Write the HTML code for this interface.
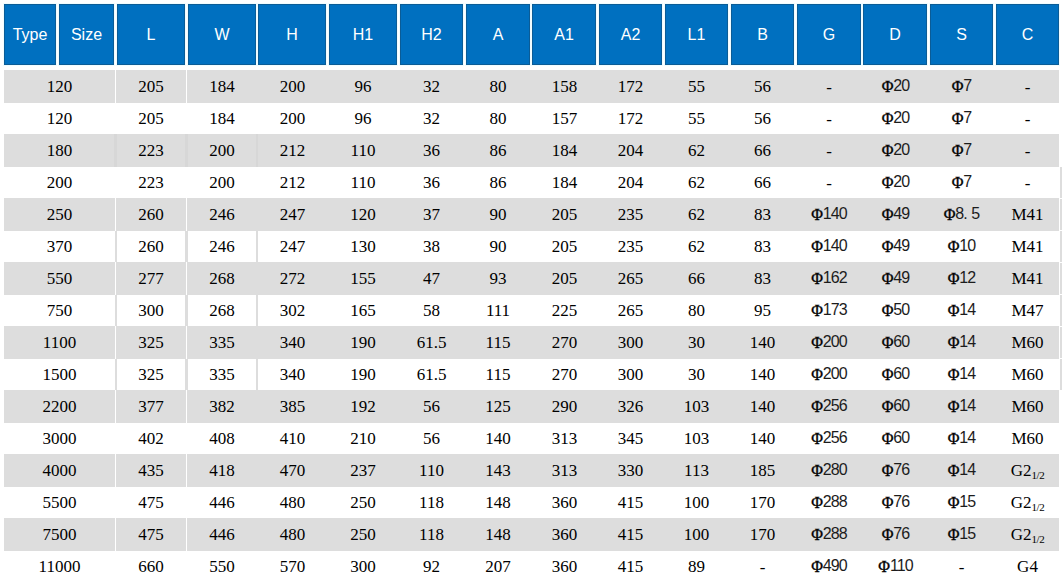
<!DOCTYPE html>
<html><head><meta charset="utf-8"><title>Dimensions</title>
<style>
html,body{margin:0;padding:0;background:#fff;width:1062px;height:581px;overflow:hidden;position:relative}
.h{position:absolute;top:4px;height:61px;background:#0070c0;color:#fff;font:16px/61px "Liberation Sans",sans-serif;text-align:center;box-shadow:inset 0 0 0 1px #0b5c96,inset 0 -1px 0 0 #0a4f82,0 0 0 1px #f0fcff}
.r{position:absolute;left:4px;width:1055px;height:33px;background:#dddddd}
.c{position:absolute;height:33px;font:17px/33px "Liberation Serif",serif;color:#000;text-align:center;white-space:nowrap}
.p{font-size:16px;margin-top:-1px}
.p i{font-style:normal;position:relative;top:1px;-webkit-text-stroke:0.35px #000}
.p b{font-weight:normal;font-family:"Liberation Sans",sans-serif;letter-spacing:-0.9px;color:#1c1c1c}
.p u{text-decoration:none;display:inline-block;width:8px;text-align:left;text-indent:0}
.v{position:absolute;width:1px;height:33px;background:#fff}
.vg{position:absolute;width:2px;height:31px;background:#d9d9d9}
.d{margin-top:1px}
sub{font-size:11px;vertical-align:-3px;line-height:0;letter-spacing:-0.5px}
</style></head><body>

<div class="h" style="left:4px;width:52px">Type</div>
<div class="h" style="left:59px;width:55px">Size</div>
<div class="h" style="left:117px;width:68px">L</div>
<div class="h" style="left:188px;width:68px">W</div>
<div class="h" style="left:258px;width:68px">H</div>
<div class="h" style="left:329px;width:68px">H1</div>
<div class="h" style="left:400px;width:63px">H2</div>
<div class="h" style="left:466px;width:64px">A</div>
<div class="h" style="left:532px;width:64px">A1</div>
<div class="h" style="left:599px;width:63px">A2</div>
<div class="h" style="left:665px;width:63px">L1</div>
<div class="h" style="left:731px;width:63px">B</div>
<div class="h" style="left:797px;width:64px">G</div>
<div class="h" style="left:863px;width:64px">D</div>
<div class="h" style="left:930px;width:63px">S</div>
<div class="h" style="left:996px;width:63px">C</div>
<div class="r" style="top:70px"></div>
<div class="v" style="left:115px;top:70px"></div><div class="v" style="left:186px;top:70px"></div>
<div class="c" style="left:4px;width:111px;top:70px">120</div>
<div class="c" style="left:116px;width:70px;top:70px">205</div>
<div class="c" style="left:187px;width:70px;top:70px">184</div>
<div class="c" style="left:258px;width:69px;top:70px">200</div>
<div class="c" style="left:328px;width:70px;top:70px">96</div>
<div class="c" style="left:399px;width:65px;top:70px">32</div>
<div class="c" style="left:465px;width:66px;top:70px">80</div>
<div class="c" style="left:532px;width:65px;top:70px">158</div>
<div class="c" style="left:598px;width:65px;top:70px">172</div>
<div class="c" style="left:664px;width:65px;top:70px">55</div>
<div class="c" style="left:730px;width:65px;top:70px">56</div>
<div class="c d" style="left:796px;width:66px;top:70px">-</div>
<div class="c p" style="left:863px;width:65px;top:70px"><i>Φ</i><b>20</b></div>
<div class="c p" style="left:929px;width:65px;top:70px"><i>Φ</i><b>7</b></div>
<div class="c d" style="left:995px;width:65px;top:70px">-</div>
<div class="c" style="left:4px;width:111px;top:102px">120</div>
<div class="c" style="left:116px;width:70px;top:102px">205</div>
<div class="c" style="left:187px;width:70px;top:102px">184</div>
<div class="c" style="left:258px;width:69px;top:102px">200</div>
<div class="c" style="left:328px;width:70px;top:102px">96</div>
<div class="c" style="left:399px;width:65px;top:102px">32</div>
<div class="c" style="left:465px;width:66px;top:102px">80</div>
<div class="c" style="left:532px;width:65px;top:102px">157</div>
<div class="c" style="left:598px;width:65px;top:102px">172</div>
<div class="c" style="left:664px;width:65px;top:102px">55</div>
<div class="c" style="left:730px;width:65px;top:102px">56</div>
<div class="c d" style="left:796px;width:66px;top:102px">-</div>
<div class="c p" style="left:863px;width:65px;top:102px"><i>Φ</i><b>20</b></div>
<div class="c p" style="left:929px;width:65px;top:102px"><i>Φ</i><b>7</b></div>
<div class="c d" style="left:995px;width:65px;top:102px">-</div>
<div class="r" style="top:134px"></div>
<div style="position:absolute;left:114px;top:134px;width:3px;height:33px;background:#d7d7d7"></div>
<div style="position:absolute;left:185px;top:134px;width:3px;height:33px;background:#d7d7d7"></div>
<div style="position:absolute;left:256px;top:134px;width:2px;height:33px;background:#d7d7d7"></div>
<div class="c" style="left:4px;width:111px;top:134px">180</div>
<div class="c" style="left:116px;width:70px;top:134px">223</div>
<div class="c" style="left:187px;width:70px;top:134px">200</div>
<div class="c" style="left:258px;width:69px;top:134px">212</div>
<div class="c" style="left:328px;width:70px;top:134px">110</div>
<div class="c" style="left:399px;width:65px;top:134px">36</div>
<div class="c" style="left:465px;width:66px;top:134px">86</div>
<div class="c" style="left:532px;width:65px;top:134px">184</div>
<div class="c" style="left:598px;width:65px;top:134px">204</div>
<div class="c" style="left:664px;width:65px;top:134px">62</div>
<div class="c" style="left:730px;width:65px;top:134px">66</div>
<div class="c d" style="left:796px;width:66px;top:134px">-</div>
<div class="c p" style="left:863px;width:65px;top:134px"><i>Φ</i><b>20</b></div>
<div class="c p" style="left:929px;width:65px;top:134px"><i>Φ</i><b>7</b></div>
<div class="c d" style="left:995px;width:65px;top:134px">-</div>
<div style="position:absolute;left:1060px;top:167px;width:2px;height:31px;background:#dddddd"></div>
<div class="c" style="left:4px;width:111px;top:166px">200</div>
<div class="c" style="left:116px;width:70px;top:166px">223</div>
<div class="c" style="left:187px;width:70px;top:166px">200</div>
<div class="c" style="left:258px;width:69px;top:166px">212</div>
<div class="c" style="left:328px;width:70px;top:166px">110</div>
<div class="c" style="left:399px;width:65px;top:166px">36</div>
<div class="c" style="left:465px;width:66px;top:166px">86</div>
<div class="c" style="left:532px;width:65px;top:166px">184</div>
<div class="c" style="left:598px;width:65px;top:166px">204</div>
<div class="c" style="left:664px;width:65px;top:166px">62</div>
<div class="c" style="left:730px;width:65px;top:166px">66</div>
<div class="c d" style="left:796px;width:66px;top:166px">-</div>
<div class="c p" style="left:863px;width:65px;top:166px"><i>Φ</i><b>20</b></div>
<div class="c p" style="left:929px;width:65px;top:166px"><i>Φ</i><b>7</b></div>
<div class="c d" style="left:995px;width:65px;top:166px">-</div>
<div class="r" style="top:198px"></div>
<div class="v" style="left:115px;top:198px"></div><div class="v" style="left:186px;top:198px"></div>
<div style="position:absolute;left:1060px;top:199px;width:2px;height:31px;background:#dddddd"></div>
<div class="c" style="left:4px;width:111px;top:198px">250</div>
<div class="c" style="left:116px;width:70px;top:198px">260</div>
<div class="c" style="left:187px;width:70px;top:198px">246</div>
<div class="c" style="left:258px;width:69px;top:198px">247</div>
<div class="c" style="left:328px;width:70px;top:198px">120</div>
<div class="c" style="left:399px;width:65px;top:198px">37</div>
<div class="c" style="left:465px;width:66px;top:198px">90</div>
<div class="c" style="left:532px;width:65px;top:198px">205</div>
<div class="c" style="left:598px;width:65px;top:198px">235</div>
<div class="c" style="left:664px;width:65px;top:198px">62</div>
<div class="c" style="left:730px;width:65px;top:198px">83</div>
<div class="c p" style="left:796px;width:66px;top:198px"><i>Φ</i><b>140</b></div>
<div class="c p" style="left:863px;width:65px;top:198px"><i>Φ</i><b>49</b></div>
<div class="c p" style="left:929px;width:65px;top:198px"><i>Φ</i><b>8<u>.</u>5</b></div>
<div class="c" style="left:995px;width:65px;top:198px">M41</div>
<div style="position:absolute;left:115px;top:231px;width:2px;height:31px;background:#dddddd"></div>
<div style="position:absolute;left:185px;top:231px;width:3px;height:31px;background:#dddddd"></div>
<div style="position:absolute;left:256px;top:231px;width:2px;height:31px;background:#dddddd"></div>
<div style="position:absolute;left:1060px;top:231px;width:2px;height:31px;background:#dddddd"></div>
<div class="c" style="left:4px;width:111px;top:230px">370</div>
<div class="c" style="left:116px;width:70px;top:230px">260</div>
<div class="c" style="left:187px;width:70px;top:230px">246</div>
<div class="c" style="left:258px;width:69px;top:230px">247</div>
<div class="c" style="left:328px;width:70px;top:230px">130</div>
<div class="c" style="left:399px;width:65px;top:230px">38</div>
<div class="c" style="left:465px;width:66px;top:230px">90</div>
<div class="c" style="left:532px;width:65px;top:230px">205</div>
<div class="c" style="left:598px;width:65px;top:230px">235</div>
<div class="c" style="left:664px;width:65px;top:230px">62</div>
<div class="c" style="left:730px;width:65px;top:230px">83</div>
<div class="c p" style="left:796px;width:66px;top:230px"><i>Φ</i><b>140</b></div>
<div class="c p" style="left:863px;width:65px;top:230px"><i>Φ</i><b>49</b></div>
<div class="c p" style="left:929px;width:65px;top:230px"><i>Φ</i><b>10</b></div>
<div class="c" style="left:995px;width:65px;top:230px">M41</div>
<div class="r" style="top:262px"></div>
<div class="v" style="left:115px;top:262px"></div><div class="v" style="left:186px;top:262px"></div>
<div style="position:absolute;left:1060px;top:263px;width:2px;height:31px;background:#dddddd"></div>
<div class="c" style="left:4px;width:111px;top:262px">550</div>
<div class="c" style="left:116px;width:70px;top:262px">277</div>
<div class="c" style="left:187px;width:70px;top:262px">268</div>
<div class="c" style="left:258px;width:69px;top:262px">272</div>
<div class="c" style="left:328px;width:70px;top:262px">155</div>
<div class="c" style="left:399px;width:65px;top:262px">47</div>
<div class="c" style="left:465px;width:66px;top:262px">93</div>
<div class="c" style="left:532px;width:65px;top:262px">205</div>
<div class="c" style="left:598px;width:65px;top:262px">265</div>
<div class="c" style="left:664px;width:65px;top:262px">66</div>
<div class="c" style="left:730px;width:65px;top:262px">83</div>
<div class="c p" style="left:796px;width:66px;top:262px"><i>Φ</i><b>162</b></div>
<div class="c p" style="left:863px;width:65px;top:262px"><i>Φ</i><b>49</b></div>
<div class="c p" style="left:929px;width:65px;top:262px"><i>Φ</i><b>12</b></div>
<div class="c" style="left:995px;width:65px;top:262px">M41</div>
<div style="position:absolute;left:115px;top:295px;width:2px;height:31px;background:#dddddd"></div>
<div style="position:absolute;left:185px;top:295px;width:3px;height:31px;background:#dddddd"></div>
<div style="position:absolute;left:256px;top:295px;width:2px;height:31px;background:#dddddd"></div>
<div style="position:absolute;left:1060px;top:295px;width:2px;height:31px;background:#dddddd"></div>
<div class="c" style="left:4px;width:111px;top:294px">750</div>
<div class="c" style="left:116px;width:70px;top:294px">300</div>
<div class="c" style="left:187px;width:70px;top:294px">268</div>
<div class="c" style="left:258px;width:69px;top:294px">302</div>
<div class="c" style="left:328px;width:70px;top:294px">165</div>
<div class="c" style="left:399px;width:65px;top:294px">58</div>
<div class="c" style="left:465px;width:66px;top:294px">111</div>
<div class="c" style="left:532px;width:65px;top:294px">225</div>
<div class="c" style="left:598px;width:65px;top:294px">265</div>
<div class="c" style="left:664px;width:65px;top:294px">80</div>
<div class="c" style="left:730px;width:65px;top:294px">95</div>
<div class="c p" style="left:796px;width:66px;top:294px"><i>Φ</i><b>173</b></div>
<div class="c p" style="left:863px;width:65px;top:294px"><i>Φ</i><b>50</b></div>
<div class="c p" style="left:929px;width:65px;top:294px"><i>Φ</i><b>14</b></div>
<div class="c" style="left:995px;width:65px;top:294px">M47</div>
<div class="r" style="top:326px"></div>
<div class="v" style="left:115px;top:326px"></div><div class="v" style="left:186px;top:326px"></div>
<div style="position:absolute;left:1060px;top:327px;width:2px;height:31px;background:#dddddd"></div>
<div class="c" style="left:4px;width:111px;top:326px">1100</div>
<div class="c" style="left:116px;width:70px;top:326px">325</div>
<div class="c" style="left:187px;width:70px;top:326px">335</div>
<div class="c" style="left:258px;width:69px;top:326px">340</div>
<div class="c" style="left:328px;width:70px;top:326px">190</div>
<div class="c" style="left:399px;width:65px;top:326px">61.5</div>
<div class="c" style="left:465px;width:66px;top:326px">115</div>
<div class="c" style="left:532px;width:65px;top:326px">270</div>
<div class="c" style="left:598px;width:65px;top:326px">300</div>
<div class="c" style="left:664px;width:65px;top:326px">30</div>
<div class="c" style="left:730px;width:65px;top:326px">140</div>
<div class="c p" style="left:796px;width:66px;top:326px"><i>Φ</i><b>200</b></div>
<div class="c p" style="left:863px;width:65px;top:326px"><i>Φ</i><b>60</b></div>
<div class="c p" style="left:929px;width:65px;top:326px"><i>Φ</i><b>14</b></div>
<div class="c" style="left:995px;width:65px;top:326px">M60</div>
<div style="position:absolute;left:115px;top:359px;width:2px;height:31px;background:#dddddd"></div>
<div style="position:absolute;left:185px;top:359px;width:3px;height:31px;background:#dddddd"></div>
<div style="position:absolute;left:256px;top:359px;width:2px;height:31px;background:#dddddd"></div>
<div style="position:absolute;left:1060px;top:359px;width:2px;height:31px;background:#dddddd"></div>
<div class="c" style="left:4px;width:111px;top:358px">1500</div>
<div class="c" style="left:116px;width:70px;top:358px">325</div>
<div class="c" style="left:187px;width:70px;top:358px">335</div>
<div class="c" style="left:258px;width:69px;top:358px">340</div>
<div class="c" style="left:328px;width:70px;top:358px">190</div>
<div class="c" style="left:399px;width:65px;top:358px">61.5</div>
<div class="c" style="left:465px;width:66px;top:358px">115</div>
<div class="c" style="left:532px;width:65px;top:358px">270</div>
<div class="c" style="left:598px;width:65px;top:358px">300</div>
<div class="c" style="left:664px;width:65px;top:358px">30</div>
<div class="c" style="left:730px;width:65px;top:358px">140</div>
<div class="c p" style="left:796px;width:66px;top:358px"><i>Φ</i><b>200</b></div>
<div class="c p" style="left:863px;width:65px;top:358px"><i>Φ</i><b>60</b></div>
<div class="c p" style="left:929px;width:65px;top:358px"><i>Φ</i><b>14</b></div>
<div class="c" style="left:995px;width:65px;top:358px">M60</div>
<div class="r" style="top:390px"></div>
<div class="v" style="left:115px;top:390px"></div><div class="v" style="left:186px;top:390px"></div>
<div class="c" style="left:4px;width:111px;top:390px">2200</div>
<div class="c" style="left:116px;width:70px;top:390px">377</div>
<div class="c" style="left:187px;width:70px;top:390px">382</div>
<div class="c" style="left:258px;width:69px;top:390px">385</div>
<div class="c" style="left:328px;width:70px;top:390px">192</div>
<div class="c" style="left:399px;width:65px;top:390px">56</div>
<div class="c" style="left:465px;width:66px;top:390px">125</div>
<div class="c" style="left:532px;width:65px;top:390px">290</div>
<div class="c" style="left:598px;width:65px;top:390px">326</div>
<div class="c" style="left:664px;width:65px;top:390px">103</div>
<div class="c" style="left:730px;width:65px;top:390px">140</div>
<div class="c p" style="left:796px;width:66px;top:390px"><i>Φ</i><b>256</b></div>
<div class="c p" style="left:863px;width:65px;top:390px"><i>Φ</i><b>60</b></div>
<div class="c p" style="left:929px;width:65px;top:390px"><i>Φ</i><b>14</b></div>
<div class="c" style="left:995px;width:65px;top:390px">M60</div>
<div class="c" style="left:4px;width:111px;top:422px">3000</div>
<div class="c" style="left:116px;width:70px;top:422px">402</div>
<div class="c" style="left:187px;width:70px;top:422px">408</div>
<div class="c" style="left:258px;width:69px;top:422px">410</div>
<div class="c" style="left:328px;width:70px;top:422px">210</div>
<div class="c" style="left:399px;width:65px;top:422px">56</div>
<div class="c" style="left:465px;width:66px;top:422px">140</div>
<div class="c" style="left:532px;width:65px;top:422px">313</div>
<div class="c" style="left:598px;width:65px;top:422px">345</div>
<div class="c" style="left:664px;width:65px;top:422px">103</div>
<div class="c" style="left:730px;width:65px;top:422px">140</div>
<div class="c p" style="left:796px;width:66px;top:422px"><i>Φ</i><b>256</b></div>
<div class="c p" style="left:863px;width:65px;top:422px"><i>Φ</i><b>60</b></div>
<div class="c p" style="left:929px;width:65px;top:422px"><i>Φ</i><b>14</b></div>
<div class="c" style="left:995px;width:65px;top:422px">M60</div>
<div class="r" style="top:454px"></div>
<div class="v" style="left:115px;top:454px"></div><div class="v" style="left:186px;top:454px"></div>
<div class="c" style="left:4px;width:111px;top:454px">4000</div>
<div class="c" style="left:116px;width:70px;top:454px">435</div>
<div class="c" style="left:187px;width:70px;top:454px">418</div>
<div class="c" style="left:258px;width:69px;top:454px">470</div>
<div class="c" style="left:328px;width:70px;top:454px">237</div>
<div class="c" style="left:399px;width:65px;top:454px">110</div>
<div class="c" style="left:465px;width:66px;top:454px">143</div>
<div class="c" style="left:532px;width:65px;top:454px">313</div>
<div class="c" style="left:598px;width:65px;top:454px">330</div>
<div class="c" style="left:664px;width:65px;top:454px">113</div>
<div class="c" style="left:730px;width:65px;top:454px">185</div>
<div class="c p" style="left:796px;width:66px;top:454px"><i>Φ</i><b>280</b></div>
<div class="c p" style="left:863px;width:65px;top:454px"><i>Φ</i><b>76</b></div>
<div class="c p" style="left:929px;width:65px;top:454px"><i>Φ</i><b>14</b></div>
<div class="c" style="left:995px;width:65px;top:454px">G2<sub>1/2</sub></div>
<div class="c" style="left:4px;width:111px;top:486px">5500</div>
<div class="c" style="left:116px;width:70px;top:486px">475</div>
<div class="c" style="left:187px;width:70px;top:486px">446</div>
<div class="c" style="left:258px;width:69px;top:486px">480</div>
<div class="c" style="left:328px;width:70px;top:486px">250</div>
<div class="c" style="left:399px;width:65px;top:486px">118</div>
<div class="c" style="left:465px;width:66px;top:486px">148</div>
<div class="c" style="left:532px;width:65px;top:486px">360</div>
<div class="c" style="left:598px;width:65px;top:486px">415</div>
<div class="c" style="left:664px;width:65px;top:486px">100</div>
<div class="c" style="left:730px;width:65px;top:486px">170</div>
<div class="c p" style="left:796px;width:66px;top:486px"><i>Φ</i><b>288</b></div>
<div class="c p" style="left:863px;width:65px;top:486px"><i>Φ</i><b>76</b></div>
<div class="c p" style="left:929px;width:65px;top:486px"><i>Φ</i><b>15</b></div>
<div class="c" style="left:995px;width:65px;top:486px">G2<sub>1/2</sub></div>
<div class="r" style="top:518px"></div>
<div class="v" style="left:115px;top:518px"></div><div class="v" style="left:186px;top:518px"></div>
<div class="c" style="left:4px;width:111px;top:518px">7500</div>
<div class="c" style="left:116px;width:70px;top:518px">475</div>
<div class="c" style="left:187px;width:70px;top:518px">446</div>
<div class="c" style="left:258px;width:69px;top:518px">480</div>
<div class="c" style="left:328px;width:70px;top:518px">250</div>
<div class="c" style="left:399px;width:65px;top:518px">118</div>
<div class="c" style="left:465px;width:66px;top:518px">148</div>
<div class="c" style="left:532px;width:65px;top:518px">360</div>
<div class="c" style="left:598px;width:65px;top:518px">415</div>
<div class="c" style="left:664px;width:65px;top:518px">100</div>
<div class="c" style="left:730px;width:65px;top:518px">170</div>
<div class="c p" style="left:796px;width:66px;top:518px"><i>Φ</i><b>288</b></div>
<div class="c p" style="left:863px;width:65px;top:518px"><i>Φ</i><b>76</b></div>
<div class="c p" style="left:929px;width:65px;top:518px"><i>Φ</i><b>15</b></div>
<div class="c" style="left:995px;width:65px;top:518px">G2<sub>1/2</sub></div>
<div class="c" style="left:4px;width:111px;top:550px">11000</div>
<div class="c" style="left:116px;width:70px;top:550px">660</div>
<div class="c" style="left:187px;width:70px;top:550px">550</div>
<div class="c" style="left:258px;width:69px;top:550px">570</div>
<div class="c" style="left:328px;width:70px;top:550px">300</div>
<div class="c" style="left:399px;width:65px;top:550px">92</div>
<div class="c" style="left:465px;width:66px;top:550px">207</div>
<div class="c" style="left:532px;width:65px;top:550px">360</div>
<div class="c" style="left:598px;width:65px;top:550px">415</div>
<div class="c" style="left:664px;width:65px;top:550px">89</div>
<div class="c d" style="left:730px;width:65px;top:550px">-</div>
<div class="c p" style="left:796px;width:66px;top:550px"><i>Φ</i><b>490</b></div>
<div class="c p" style="left:863px;width:65px;top:550px"><i>Φ</i><b>110</b></div>
<div class="c d" style="left:929px;width:65px;top:550px">-</div>
<div class="c" style="left:995px;width:65px;top:550px">G4</div>
</body></html>
